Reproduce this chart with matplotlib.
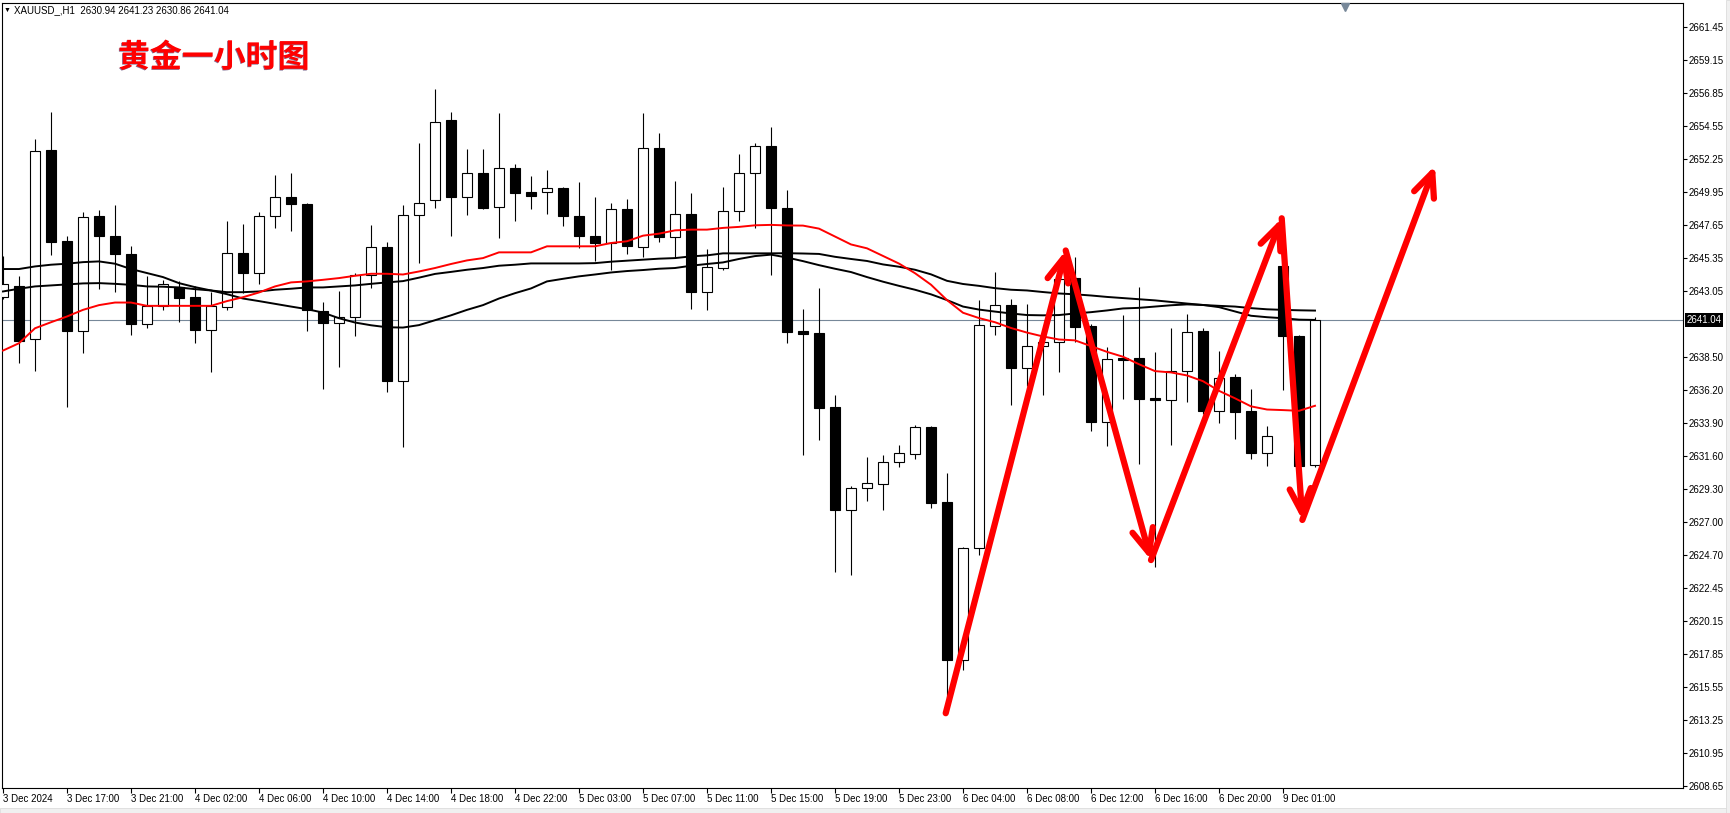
import matplotlib
matplotlib.use("Agg")
import matplotlib.pyplot as plt
import matplotlib.patheffects as pe
from matplotlib.patches import FancyArrowPatch, Rectangle
from matplotlib.transforms import blended_transform_factory

plt.rcParams['font.family'] = ['Liberation Sans', 'DejaVu Sans']

# XAUUSD H1 candles, 3 Dec 13:00 -> 9 Dec 03:00
opens = [2642.64, 2643.43, 2639.72, 2652.85, 2646.55, 2640.27, 2648.32, 2646.92, 2645.67, 2640.81,
         2642.04, 2643.34, 2642.67, 2640.34, 2641.99, 2645.71, 2644.32, 2648.32, 2649.62, 2649.15,
         2641.67, 2640.83, 2641.25, 2644.20, 2646.13, 2636.79, 2648.36, 2649.41, 2654.94, 2649.62,
         2651.29, 2648.92, 2651.64, 2649.97, 2649.97, 2650.25, 2648.32, 2646.92, 2646.39, 2648.80,
         2646.13, 2653.03, 2646.83, 2648.43, 2642.99, 2644.67, 2648.64, 2651.29, 2653.17, 2648.87,
         2640.30, 2640.16, 2634.99, 2627.86, 2629.35, 2629.62, 2631.16, 2631.72, 2633.64, 2628.39,
         2617.40, 2625.17, 2640.63, 2642.10, 2637.75, 2639.24, 2639.51, 2643.96, 2640.66, 2633.99,
         2638.42, 2638.39, 2635.62, 2635.51, 2637.48, 2640.31, 2634.76, 2637.11, 2634.71, 2631.78,
         2644.83, 2639.95, 2630.94]
highs = [2645.52, 2644.09, 2653.66, 2655.52, 2646.92, 2648.59, 2648.73, 2649.08, 2646.18, 2644.09,
         2643.85, 2643.74, 2643.39, 2643.02, 2647.97, 2647.73, 2648.55, 2651.11, 2651.29, 2649.20,
         2642.30, 2643.09, 2644.32, 2647.64, 2646.48, 2649.08, 2653.34, 2657.10, 2655.52, 2652.92,
         2652.92, 2655.43, 2651.87, 2651.08, 2651.52, 2650.30, 2650.62, 2649.64, 2649.20, 2649.50,
         2655.43, 2654.03, 2650.69, 2649.92, 2646.01, 2650.27, 2652.57, 2653.34, 2654.45, 2650.13,
         2641.83, 2643.27, 2635.83, 2629.50, 2631.56, 2631.67, 2632.36, 2633.78, 2633.70, 2630.39,
         2625.30, 2642.44, 2644.42, 2642.52, 2642.18, 2640.50, 2644.18, 2645.46, 2640.80, 2639.19,
         2641.43, 2643.38, 2638.84, 2640.52, 2641.46, 2640.50, 2638.90, 2637.30, 2636.26, 2633.67,
         2647.90, 2640.00, 2641.23]
lows = [2642.50, 2638.09, 2637.53, 2645.55, 2635.02, 2638.74, 2643.23, 2642.97, 2640.04, 2640.51,
        2641.76, 2640.95, 2639.48, 2637.46, 2641.76, 2642.92, 2643.57, 2647.43, 2647.22, 2640.27,
        2636.23, 2637.81, 2639.95, 2643.30, 2636.07, 2632.23, 2644.99, 2648.85, 2646.87, 2648.34,
        2648.80, 2646.74, 2647.92, 2648.76, 2648.41, 2647.57, 2646.04, 2645.13, 2644.50, 2645.62,
        2645.41, 2646.46, 2645.36, 2641.85, 2641.78, 2644.55, 2647.92, 2647.46, 2644.16, 2639.48,
        2631.67, 2632.74, 2623.56, 2623.32, 2628.44, 2627.86, 2630.84, 2631.38, 2627.99, 2614.80,
        2616.71, 2624.71, 2640.04, 2635.11, 2636.44, 2635.86, 2637.46, 2639.56, 2633.32, 2632.26,
        2635.59, 2631.06, 2623.91, 2632.39, 2635.38, 2634.50, 2633.91, 2632.79, 2631.38, 2630.92,
        2636.18, 2630.80, 2630.86]
closes = [2643.55, 2639.62, 2652.78, 2646.46, 2640.32, 2648.22, 2646.87, 2645.62, 2640.81, 2642.02,
          2643.55, 2642.62, 2640.39, 2642.04, 2645.71, 2644.32, 2648.32, 2649.62, 2649.11, 2641.76,
          2640.83, 2641.25, 2644.20, 2646.13, 2636.83, 2648.36, 2649.20, 2654.85, 2649.59, 2651.29,
          2648.83, 2651.64, 2649.87, 2649.66, 2650.25, 2648.27, 2646.87, 2646.39, 2648.78, 2646.18,
          2653.03, 2646.83, 2648.43, 2642.99, 2644.74, 2648.64, 2651.29, 2653.17, 2648.83, 2640.25,
          2640.11, 2634.95, 2627.86, 2629.40, 2629.70, 2631.16, 2631.78, 2633.59, 2628.36, 2617.40,
          2625.19, 2640.71, 2642.10, 2637.75, 2639.24, 2639.51, 2643.91, 2640.58, 2633.99, 2638.36,
          2638.29, 2635.59, 2635.48, 2637.48, 2640.20, 2634.76, 2637.03, 2634.68, 2631.78, 2632.98,
          2639.95, 2630.90, 2641.04]

# moving averages as drawn on the chart
ma_red = [2638.93, 2639.44, 2640.48, 2640.90, 2641.30, 2641.76, 2642.09, 2642.27, 2642.27, 2642.04,
          2642.04, 2642.04, 2642.04, 2642.04, 2642.37, 2642.64, 2642.97, 2643.39, 2643.67, 2643.74,
          2643.85, 2643.97, 2644.13, 2644.27, 2644.27, 2644.22, 2644.43, 2644.67, 2644.95, 2645.20,
          2645.36, 2645.76, 2645.76, 2645.76, 2646.18, 2646.18, 2646.18, 2646.18, 2646.41, 2646.53,
          2646.92, 2647.06, 2647.29, 2647.34, 2647.34, 2647.46, 2647.53, 2647.64, 2647.67, 2647.63,
          2647.62, 2647.41, 2646.86, 2646.31, 2646.04, 2645.51, 2644.98, 2644.31, 2643.51, 2642.44,
          2641.56, 2641.19, 2640.90, 2640.50, 2640.18, 2639.91, 2639.70, 2639.64, 2639.24, 2638.84,
          2638.50, 2637.98, 2637.50, 2637.41, 2637.20, 2636.80, 2636.13, 2635.61, 2635.05, 2634.83,
          2634.79, 2634.74, 2635.09]
ma_slow1 = [2644.60, 2644.60, 2644.78, 2644.90, 2644.97, 2645.08, 2645.13, 2644.97, 2644.60, 2644.32,
            2644.04, 2643.62, 2643.34, 2643.11, 2642.85, 2642.55, 2642.37, 2642.18, 2641.99, 2641.81,
            2641.57, 2641.18, 2640.88, 2640.69, 2640.55, 2640.53, 2640.70, 2641.04, 2641.38, 2641.76,
            2642.09, 2642.55, 2642.92, 2643.25, 2643.74, 2643.92, 2644.09, 2644.22, 2644.36, 2644.46,
            2644.53, 2644.62, 2644.67, 2644.83, 2644.95, 2645.06, 2645.30, 2645.50, 2645.60, 2645.40,
            2645.15, 2644.87, 2644.62, 2644.39, 2644.04, 2643.72, 2643.43, 2643.16, 2642.84, 2642.44,
            2641.99, 2641.78, 2641.64, 2641.51, 2641.40, 2641.38, 2641.40, 2641.51, 2641.60, 2641.72,
            2641.86, 2641.90, 2641.99, 2642.08, 2642.14, 2642.10, 2641.95, 2641.65, 2641.35, 2641.25,
            2641.18, 2641.08, 2641.06]
ma_slow2 = [2643.04, 2643.23, 2643.39, 2643.46, 2643.53, 2643.60, 2643.62, 2643.57, 2643.50, 2643.39,
            2643.37, 2643.32, 2643.20, 2643.11, 2642.99, 2642.99, 2643.04, 2643.16, 2643.23, 2643.32,
            2643.32, 2643.39, 2643.46, 2643.57, 2643.67, 2643.76, 2644.00, 2644.26, 2644.40, 2644.55,
            2644.67, 2644.83, 2644.90, 2644.99, 2644.99, 2644.99, 2644.99, 2645.01, 2645.11, 2645.18,
            2645.25, 2645.32, 2645.36, 2645.48, 2645.55, 2645.69, 2645.69, 2645.69, 2645.69, 2645.70,
            2645.68, 2645.65, 2645.45, 2645.30, 2645.16, 2644.92, 2644.76, 2644.55, 2644.23, 2643.78,
            2643.56, 2643.43, 2643.27, 2643.16, 2643.11, 2643.00, 2642.90, 2642.84, 2642.76, 2642.66,
            2642.58, 2642.50, 2642.42, 2642.31, 2642.20, 2642.10, 2642.04, 2641.99, 2641.88, 2641.80,
            2641.76, 2641.73, 2641.71]

last_price = 2641.04
header = "XAUUSD_,H1  2630.94 2641.23 2630.86 2641.04"
title_cn = "黄金一小时图"

time_ticks = [0, 4, 8, 12, 16, 20, 24, 28, 32, 36, 40, 44, 48, 52, 56, 60, 64, 68, 72, 76, 80]
time_labels = ["3 Dec 2024", "3 Dec 17:00", "3 Dec 21:00", "4 Dec 02:00", "4 Dec 06:00",
               "4 Dec 10:00", "4 Dec 14:00", "4 Dec 18:00", "4 Dec 22:00", "5 Dec 03:00",
               "5 Dec 07:00", "5 Dec 11:00", "5 Dec 15:00", "5 Dec 19:00", "5 Dec 23:00",
               "6 Dec 04:00", "6 Dec 08:00", "6 Dec 12:00", "6 Dec 16:00", "6 Dec 20:00",
               "9 Dec 01:00"]
# the 2640.80 level sits under the current price box, so it is left out
price_labels = ["2661.45", "2659.15", "2656.85", "2654.55", "2652.25", "2649.95", "2647.65",
                "2645.35", "2643.05", "2638.50", "2636.20", "2633.90", "2631.60",
                "2629.30", "2627.00", "2624.70", "2622.45", "2620.15", "2617.85", "2615.55",
                "2613.25", "2610.95", "2608.65"]

# hand drawn zig-zag arrows (bar index, price)
arrow_bars = [58.92, 66.42, 71.75, 79.92, 81.21, 89.5]
arrow_prices = [2613.71, 2645.89, 2624.36, 2648.13, 2627.15, 2651.79]

W, H = 1731, 813
fig = plt.figure(figsize=(W / 100, H / 100), dpi=100)
fig.patch.set_facecolor('white')
ax = fig.add_axes([2.5 / W, 25 / H, 1680.5 / W, 785 / H])
ax.set_xlim(-0.03, 105.0)
ax.set_ylim(2608.51, 2663.10)

# bid line
ax.axhline(last_price, color='#778899', lw=0.8, zorder=1)

# candles
xs = list(range(len(opens)))
ax.vlines(xs, lows, highs, color='black', lw=0.8, zorder=2)
body_lo = [min(o, c) for o, c in zip(opens, closes)]
body_h = [max(abs(c - o), 0.08) for o, c in zip(opens, closes)]
fills = ['white' if c >= o else 'black' for o, c in zip(opens, closes)]
ax.bar(xs, body_h, bottom=body_lo, width=0.62, color=fills, edgecolor='black',
       linewidth=0.8, zorder=3)

# moving averages
ax.plot(xs, ma_slow1, color='black', lw=1.4, zorder=4)
ax.plot(xs, ma_slow2, color='black', lw=1.4, zorder=4)
ax.plot(xs, ma_red, color='red', lw=1.4, zorder=4)

# red arrows
for i in range(len(arrow_bars) - 1):
    arr = FancyArrowPatch((arrow_bars[i], arrow_prices[i]), (arrow_bars[i + 1], arrow_prices[i + 1]),
                          arrowstyle='->,head_length=0.85,head_width=0.38', mutation_scale=20,
                          lw=4.5, color='red', shrinkA=0, shrinkB=0, zorder=6,
                          capstyle='round', joinstyle='round')
    ax.add_patch(arr)

# axes styling
for s in ax.spines.values():
    s.set_linewidth(0.8)
    s.set_color('black')
ax.yaxis.tick_right()
ax.set_yticks([float(p) for p in price_labels])
ax.set_yticklabels(price_labels)
ax.tick_params(axis='y', direction='out', length=3, width=0.8, pad=1, labelsize=7)
ax.set_xticks(time_ticks)
ax.set_xticklabels(time_labels, ha='left')
ax.tick_params(axis='x', direction='out', length=3.6, width=0.8, pad=0.5, labelsize=7)

# current price box on the scale
ax.annotate(f"{last_price:.2f}", xy=(1, last_price), xycoords=('axes fraction', 'data'),
            xytext=(2.5, 0), textcoords='offset points', ha='left', va='center',
            color='white', fontsize=7, annotation_clip=False, zorder=10,
            bbox=dict(boxstyle='square,pad=0.2', fc='black', ec='none'))

# chart shift marker
tr = blended_transform_factory(ax.transData, ax.transAxes)
ax.plot([83.9], [1 - 4 / 785], marker='v', ms=6, color='#778899', transform=tr,
        clip_on=False, zorder=7)

# header and title
fig.text(4 / W, 1 - 10 / H, "▼", fontsize=5, va='center', ha='left', color='black')
fig.text(14 / W, 1 - 10 / H, header, fontsize=7, va='center', ha='left', color='black')
fig.text(118 / W, 1 - 58 / H, title_cn, fontsize=23, fontweight='bold', color='red',
         family=['Noto Sans CJK SC', 'DejaVu Sans'], va='center', ha='left',
         path_effects=[pe.withSimplePatchShadow(offset=(-0.5, -0.5), shadow_rgbFace='#200040', alpha=0.55)])

# window frame strips
fig.patches.append(Rectangle((0, 0), 1, 5 / H, transform=fig.transFigure,
                             fc='#f0f0f0', ec='#dcdcdc', lw=0.6))
fig.patches.append(Rectangle((1726 / W, 0), 5 / W, 1, transform=fig.transFigure,
                             fc='#f0f0f0', ec='#dcdcdc', lw=0.6))

fig.savefig('out.png', dpi=100, facecolor='white')
